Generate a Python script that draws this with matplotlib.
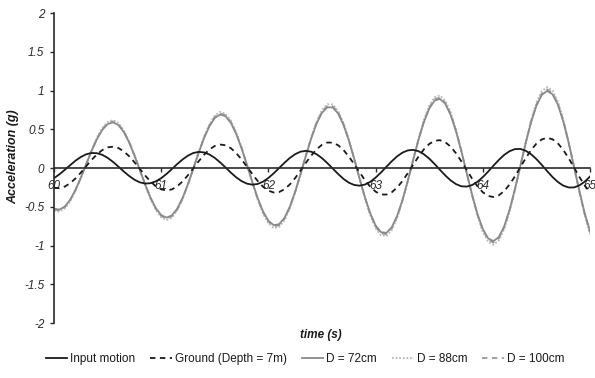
import matplotlib
matplotlib.use("Agg")
import matplotlib.pyplot as plt

plt.rcParams["font.family"] = ["Liberation Sans", "DejaVu Sans"]
plt.rcParams["axes.unicode_minus"] = False

# time samples (s), 0.05 s apart
time_s = [
    60.00, 60.05, 60.10, 60.15, 60.20, 60.25, 60.30, 60.35, 60.40, 60.45,
    60.50, 60.55, 60.60, 60.65, 60.70, 60.75, 60.80, 60.85, 60.90, 60.95,
    61.00, 61.05, 61.10, 61.15, 61.20, 61.25, 61.30, 61.35, 61.40, 61.45,
    61.50, 61.55, 61.60, 61.65, 61.70, 61.75, 61.80, 61.85, 61.90, 61.95,
    62.00, 62.05, 62.10, 62.15, 62.20, 62.25, 62.30, 62.35, 62.40, 62.45,
    62.50, 62.55, 62.60, 62.65, 62.70, 62.75, 62.80, 62.85, 62.90, 62.95,
    63.00, 63.05, 63.10, 63.15, 63.20, 63.25, 63.30, 63.35, 63.40, 63.45,
    63.50, 63.55, 63.60, 63.65, 63.70, 63.75, 63.80, 63.85, 63.90, 63.95,
    64.00, 64.05, 64.10, 64.15, 64.20, 64.25, 64.30, 64.35, 64.40, 64.45,
    64.50, 64.55, 64.60, 64.65, 64.70, 64.75, 64.80, 64.85, 64.90, 64.95,
    65.00,
]

input_motion = [
    -0.131, -0.082, -0.024, 0.036, 0.094, 0.142, 0.177, 0.194, 0.191, 0.170,
    0.131, 0.079, 0.019, -0.044, -0.102, -0.151, -0.185, -0.201, -0.196, -0.172,
    -0.131, -0.076, -0.013, 0.052, 0.111, 0.160, 0.194, 0.208, 0.201, 0.174,
    0.130, 0.072, 0.007, -0.060, -0.121, -0.170, -0.202, -0.215, -0.206, -0.176,
    -0.128, -0.068, 0.000, 0.068, 0.130, 0.179, 0.211, 0.221, 0.210, 0.177,
    0.127, 0.063, -0.007, -0.077, -0.140, -0.189, -0.219, -0.228, -0.214, -0.178,
    -0.124, -0.058, 0.015, 0.086, 0.150, 0.198, 0.227, 0.234, 0.217, 0.178,
    0.122, 0.052, -0.023, -0.096, -0.160, -0.208, -0.236, -0.240, -0.220, -0.178,
    -0.118, -0.046, 0.031, 0.105, 0.170, 0.217, 0.244, 0.246, 0.223, 0.178,
    0.115, 0.040, -0.040, -0.116, -0.180, -0.227, -0.251, -0.251, -0.225, -0.177,
    -0.110,
]

ground_7m = [
    -0.255, -0.260, -0.240, -0.197, -0.135, -0.060, 0.023, 0.104, 0.175, 0.231,
    0.266, 0.275, 0.258, 0.216, 0.153, 0.075, -0.011, -0.097, -0.174, -0.236,
    -0.276, -0.289, -0.276, -0.235, -0.172, -0.092, -0.002, 0.088, 0.172, 0.239,
    0.285, 0.303, 0.293, 0.255, 0.192, 0.110, 0.017, -0.079, -0.168, -0.242,
    -0.293, -0.316, -0.310, -0.274, -0.212, -0.129, -0.032, 0.068, 0.162, 0.242,
    0.300, 0.329, 0.327, 0.294, 0.233, 0.148, 0.049, -0.055, -0.155, -0.242,
    -0.305, -0.341, -0.343, -0.314, -0.253, -0.169, -0.067, 0.041, 0.147, 0.240,
    0.310, 0.351, 0.359, 0.333, 0.275, 0.190, 0.086, -0.026, -0.137, -0.236,
    -0.313, -0.361, -0.374, -0.352, -0.297, -0.212, -0.107, 0.010, 0.126, 0.231,
    0.315, 0.369, 0.389, 0.371, 0.319, 0.235, 0.128, 0.009, -0.113, -0.224,
    -0.315,
]

d_72cm = [
    -0.524, -0.537, -0.498, -0.411, -0.282, -0.125, 0.048, 0.219, 0.372, 0.492,
    0.567, 0.589, 0.555, 0.466, 0.332, 0.163, -0.024, -0.211, -0.382, -0.518,
    -0.608, -0.640, -0.611, -0.523, -0.384, -0.206, -0.005, 0.199, 0.387, 0.541,
    0.646, 0.690, 0.668, 0.582, 0.439, 0.252, 0.039, -0.182, -0.389, -0.561,
    -0.681, -0.738, -0.725, -0.643, -0.498, -0.302, -0.077, 0.160, 0.384, 0.575,
    0.713, 0.784, 0.781, 0.704, 0.558, 0.356, 0.119, -0.133, -0.375, -0.585,
    -0.741, -0.828, -0.837, -0.766, -0.620, -0.414, -0.165, 0.102, 0.362, 0.591,
    0.766, 0.870, 0.891, 0.828, 0.685, 0.474, 0.216, -0.065, -0.343, -0.592,
    -0.786, -0.908, -0.944, -0.890, -0.751, -0.538, -0.271, 0.024, 0.320, 0.588,
    0.803, 0.943, 0.995, 0.952, 0.818, 0.604, 0.330, 0.022, -0.291, -0.580,
    -0.816,
]

d_88cm = [
    -0.550, -0.564, -0.523, -0.432, -0.296, -0.131, 0.050, 0.230, 0.391, 0.517,
    0.595, 0.618, 0.583, 0.489, 0.349, 0.171, -0.025, -0.222, -0.401, -0.544,
    -0.638, -0.672, -0.642, -0.549, -0.403, -0.216, -0.005, 0.209, 0.406, 0.568,
    0.678, 0.725, 0.701, 0.611, 0.461, 0.265, 0.041, -0.191, -0.408, -0.589,
    -0.715, -0.775, -0.761, -0.675, -0.523, -0.317, -0.081, 0.168, 0.403, 0.604,
    0.749, 0.823, 0.820, 0.739, 0.586, 0.374, 0.125, -0.140, -0.394, -0.614,
    -0.778, -0.869, -0.879, -0.804, -0.651, -0.435, -0.173, 0.107, 0.380, 0.621,
    0.804, 0.914, 0.936, 0.869, 0.719, 0.498, 0.227, -0.068, -0.360, -0.622,
    -0.825, -0.953, -0.991, -0.935, -0.789, -0.565, -0.285, 0.025, 0.336, 0.617,
    0.843, 0.990, 1.045, 1.000, 0.859, 0.634, 0.347, 0.023, -0.306, -0.609,
    -0.857,
]

d_100cm = [
    -0.534, -0.548, -0.508, -0.419, -0.288, -0.128, 0.049, 0.223, 0.379, 0.502,
    0.578, 0.601, 0.566, 0.475, 0.339, 0.166, -0.024, -0.215, -0.390, -0.528,
    -0.620, -0.653, -0.623, -0.533, -0.392, -0.210, -0.005, 0.203, 0.395, 0.552,
    0.659, 0.704, 0.681, 0.594, 0.448, 0.257, 0.040, -0.186, -0.397, -0.572,
    -0.695, -0.753, -0.740, -0.656, -0.508, -0.308, -0.079, 0.163, 0.392, 0.587,
    0.727, 0.800, 0.797, 0.718, 0.569, 0.363, 0.121, -0.136, -0.383, -0.597,
    -0.756, -0.845, -0.854, -0.781, -0.632, -0.422, -0.168, 0.104, 0.369, 0.603,
    0.781, 0.887, 0.909, 0.845, 0.699, 0.483, 0.220, -0.066, -0.350, -0.604,
    -0.802, -0.926, -0.963, -0.908, -0.766, -0.549, -0.276, 0.024, 0.326, 0.600,
    0.819, 0.962, 1.015, 0.971, 0.834, 0.616, 0.337, 0.022, -0.297, -0.592,
    -0.832,
]

x_ticks = [60, 61, 62, 63, 64, 65]
y_ticks = [-2, -1.5, -1, -0.5, 0, 0.5, 1, 1.5, 2]
y_tick_labels = ["-2", "-1.5", "-1", "-0.5", "0", "0.5", "1", "1.5", "2"]

fig = plt.figure(figsize=(5.95, 3.78), dpi=100)
ax = fig.add_axes([0.0908, 0.1455, 0.9008, 0.8201])

lw = 1.3
l100, = ax.plot(time_s, d_100cm, color="#9a9a9a", lw=lw, dashes=(3, 2.5))
l88, = ax.plot(time_s, d_88cm, color="#b8b8b8", lw=lw, ls=(0, (1, 1)))
l72, = ax.plot(time_s, d_72cm, color="#8a8a8a", lw=lw)
lg, = ax.plot(time_s, ground_7m, color="#1a1a1a", lw=lw, dashes=(3, 2.5))
li, = ax.plot(time_s, input_motion, color="#1a1a1a", lw=lw)

ax.set_xlim(60, 65)
ax.set_ylim(-2, 2)
ax.set_xticks(x_ticks)
ax.set_yticks(y_ticks)
ax.set_yticklabels(y_tick_labels)

ax.spines["top"].set_visible(False)
ax.spines["right"].set_visible(False)
ax.spines["bottom"].set_position(("data", 0))
for side in ("left", "bottom"):
    ax.spines[side].set_color("#2a2a2a")
    ax.spines[side].set_linewidth(1.2)

ax.tick_params(axis="both", direction="out", length=3, width=1, color="#2a2a2a",
               labelsize=8.5, labelcolor="#2a2a2a")
ax.tick_params(axis="x", pad=5.5)
ax.tick_params(axis="y", pad=4)
for lab in ax.get_xticklabels() + ax.get_yticklabels():
    lab.set_fontstyle("italic")

ax.set_ylabel("Acceleration (g)", fontsize=9, fontweight="bold", fontstyle="italic",
              color="#1a1a1a")
ax.yaxis.set_label_coords(-0.064, 0.535)
ax.set_xlabel("time (s)", fontsize=8.5, fontweight="bold", fontstyle="italic",
              color="#1a1a1a")
ax.xaxis.set_label_coords(0.498, -0.018)

fig.legend([li, lg, l72, l88, l100],
           ["Input motion", "Ground (Depth = 7m)", "D = 72cm", "D = 88cm", "D = 100cm"],
           loc="center", bbox_to_anchor=(305 / 595, 1 - 359 / 378), ncol=5,
           frameon=False, fontsize=8.5, handlelength=1.8, handletextpad=0.25,
           columnspacing=1.3, labelcolor="#1a1a1a")

fig.savefig("out.png", dpi=100)
